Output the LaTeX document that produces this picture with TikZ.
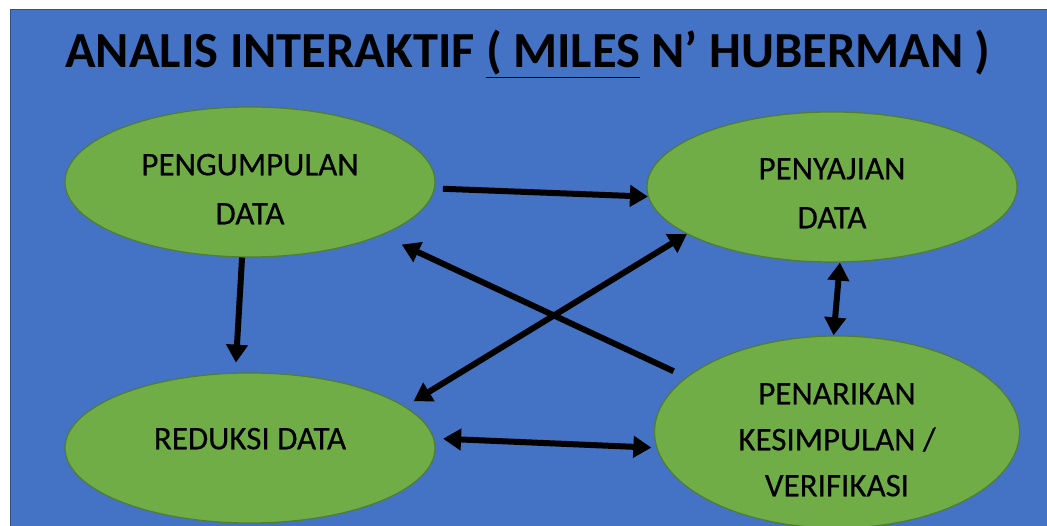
\documentclass[tikz,border=0pt]{standalone}
\usepackage{fontspec}
\setmainfont{Carlito}
\usetikzlibrary{shapes.geometric,arrows.meta}
\definecolor{latar}{HTML}{4472C4}
\definecolor{latargaris}{HTML}{2F528F}
\definecolor{hijau}{HTML}{70AD47}
\definecolor{hijaugaris}{HTML}{507E32}
\tikzset{
  elips/.style={ellipse,fill=hijau,draw=hijaugaris,line width=1.2pt,
    inner sep=0pt,minimum width=370pt,minimum height=150pt,
    align=center,font=\fontsize{33}{49}\selectfont\addfontfeature{FakeBold=0.4}},
  panah/.style={line width=6pt,-{Triangle[length=18pt,width=21pt]}},
  duapanah/.style={line width=6pt,{Triangle[length=18pt,width=21pt]}-{Triangle[length=18pt,width=21pt]}}
}
\begin{document}
\begin{tikzpicture}[x=1pt,y=1pt]
  \useasboundingbox (0,0) rectangle (1047,526);
  \fill[white] (0,0) rectangle (1047,526);
  \draw[fill=latar,draw=latargaris,line width=1pt] (10,-5) rectangle (1055,516);
  \node[anchor=base,font=\fontsize{50.5}{54}\selectfont\bfseries] (judul) at (528,458)
    {ANALIS INTERAKTIF \underline{( MILES} N’ HUBERMAN )};
  \draw
    (250,344) node[elips,text height=84.6pt,text depth=0pt] (kumpul){PENGUMPULAN\\DATA}
    (832,339) node[elips,text height=82.6pt,text depth=0pt] (saji){PENYAJIAN\\DATA}
    (250,78) node[elips,text height=22pt,text depth=19.4pt] (reduksi){REDUKSI DATA}
    (837,94) node[elips,minimum width=365pt,minimum height=192pt,text height=128.6pt,text depth=0pt,
      font=\fontsize{33}{46}\selectfont\addfontfeature{FakeBold=0.4}] (tarik){PENARIKAN\\KESIMPULAN /\\VERIFIKASI};
  \begin{scope}[panah]
    \draw[shorten <=8pt] (kumpul.-2) to (saji.183);
    \draw[shorten >=10pt] (kumpul.264) to (reduksi.101);
    \draw[shorten <=14pt,shorten >=22pt] (tarik.160) to (kumpul.-22);
  \end{scope}
  \begin{scope}[duapanah]
    \draw[shorten <=10pt] (reduksi.15) to (saji.198);
    \draw[shorten <=9pt,shorten >=5pt] (reduksi.3) to (tarik.185);
    \draw (saji.276) to (tarik.92);
  \end{scope}
\end{tikzpicture}
\end{document}
